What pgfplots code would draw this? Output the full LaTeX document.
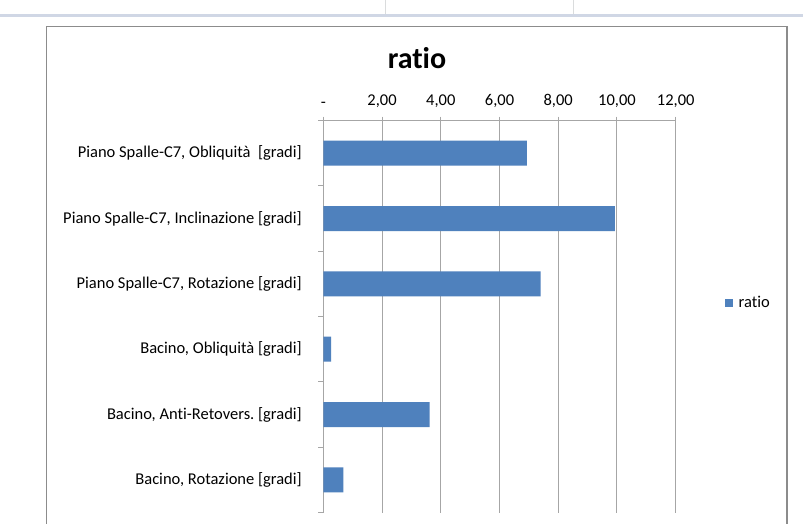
\documentclass[border=0pt]{standalone}
\usepackage{fontspec}
\setmainfont{Carlito}[Ligatures=NoCommon]
\usepackage{pgfplots}
\pgfplotsset{compat=1.18}
\frenchspacing

\definecolor{barblue}{HTML}{4F81BD}
\definecolor{gridgray}{HTML}{A6A6A6}
\definecolor{framegray}{HTML}{8C8C8C}
\definecolor{sheetline}{HTML}{D0D7E5}
\definecolor{sheetcell}{HTML}{DADCDD}

\begin{document}
\begin{tikzpicture}[x=1pt,y=1pt]
\path[use as bounding box] (0,0) rectangle (803,-523);
\clip (0,0) rectangle (803,-523);
\fill[white] (0,0) rectangle (803,-523);
% worksheet cell borders behind the chart object
\draw[sheetline, line width=2.5pt] (0,-15.3) -- (803,-15.3);
\draw[sheetcell, line width=1pt] (385,0) -- (385,-14) (573,0) -- (573,-14);
% chart area
\draw[framegray, line width=1.5pt, fill=white] (46.5,-26.5) rectangle (787,-560);
\node[font=\fontsize{30}{36}\selectfont\bfseries, inner sep=0pt] at (417,-58) {ratio};

\begin{axis}[
  at={(323.3pt,-120.5pt)}, anchor=north west,
  scale only axis, width=352.4pt, height=392pt,
  xmin=0, xmax=12, ymin=-0.5, ymax=5.5, y dir=reverse,
  axis x line*=top, axis y line*=left,
  axis line style={gridgray, line width=1pt},
  tick align=outside,
  xtick={0,2,4,6,8,10,12},
  xticklabels={{-},{2,00},{4,00},{6,00},{8,00},{10,00},{12,00}},
  major tick length=4pt, minor tick length=5pt,
  x tick style={gridgray, line width=1pt},
  xmajorgrids, major grid style={gridgray, line width=1pt},
  xticklabel style={yshift=5pt},
  ytick={0,1,2,3,4,5},
  minor ytick={-0.5,0.5,1.5,2.5,3.5,4.5,5.5},
  y tick style={gridgray, line width=1pt},
  major y tick style={draw=none},
  yticklabel style={xshift=-14pt},
  yticklabels={
    {Piano Spalle-C7, Obliquità\ \ [gradi]},
    {Piano Spalle-C7, Inclinazione [gradi]},
    {Piano Spalle-C7, Rotazione [gradi]},
    {Bacino, Obliquità [gradi]},
    {Bacino, Anti-Retovers. [gradi]},
    {Bacino, Rotazione [gradi]}},
  ticklabel style={font=\fontsize{16.5}{20}\selectfont, text=black},
  legend style={at={(1.14,0.535)}, anchor=west, draw=none, fill=none,
    font=\fontsize{16.5}{20}\selectfont, inner sep=0pt,
    /tikz/every odd column/.append style={column sep=3.5pt}},
  legend image code/.code={\fill[barblue] (0pt,-4pt) rectangle (8pt,4pt);},
]
\addplot[xbar, bar width=25pt, fill=barblue, draw=none] coordinates {
  (6.93,0) (9.93,1) (7.40,2) (0.27,3) (3.62,4) (0.68,5)
};
\addlegendentry{ratio}
\end{axis}
\end{tikzpicture}
\end{document}
